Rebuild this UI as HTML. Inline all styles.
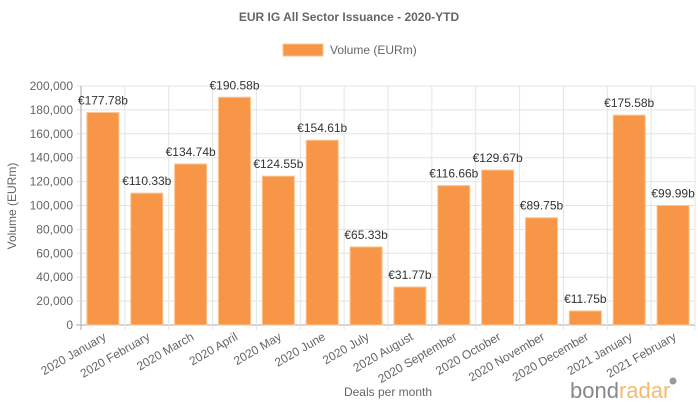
<!DOCTYPE html>
<html><head><meta charset="utf-8"><style>
body{margin:0;background:#fff;font-family:"Liberation Sans",sans-serif}
</style></head><body>
<svg width="698" height="404" xmlns="http://www.w3.org/2000/svg" font-family="Liberation Sans, sans-serif">
<text x="349" y="21" text-anchor="middle" font-size="12" font-weight="bold" fill="#666">EUR IG All Sector Issuance - 2020-YTD</text>
<g>
<rect x="283" y="44" width="40" height="12" fill="#f79646" stroke="#fbc48f" stroke-width="1"/>
<text x="330" y="54" font-size="12" fill="#666">Volume (EURm)</text>
</g>
<text transform="translate(16,206) rotate(-90)" text-anchor="middle" font-size="12" fill="#666">Volume (EURm)</text>
<text x="388" y="396" text-anchor="middle" font-size="12" fill="#666">Deals per month</text>
<g id="grid"></g><g id="bars"></g><g id="labels"></g>
<g>
<text x="570" y="398" font-size="22" fill="#888">bond<tspan fill="#f5b971">radar</tspan></text>
<circle cx="673" cy="381" r="3.5" fill="#999"/>
</g>
</svg>
<script>
const categories=["2020 January","2020 February","2020 March","2020 April","2020 May","2020 June","2020 July","2020 August","2020 September","2020 October","2020 November","2020 December","2021 January","2021 February"];
const values=[177780,110330,134740,190580,124550,154610,65330,31770,116660,129670,89750,11750,175580,99990];
const valueLabels=["€177.78b","€110.33b","€134.74b","€190.58b","€124.55b","€154.61b","€65.33b","€31.77b","€116.66b","€129.67b","€89.75b","€11.75b","€175.58b","€99.99b"];
const yTicks=[0,20000,40000,60000,80000,100000,120000,140000,160000,180000,200000];
const NS="http://www.w3.org/2000/svg";
const x0=81,x1=695,y0=325,yTop=86,yMax=200000;
const cw=(x1-x0)/categories.length;
const ys=v=>y0-(v/yMax)*(y0-yTop);
const xs=i=>x0+i*cw;
function mk(t,a,p){const e=document.createElementNS(NS,t);for(const k in a)e.setAttribute(k,a[k]);p.appendChild(e);return e;}
const g=document.getElementById('grid'),b=document.getElementById('bars'),l=document.getElementById('labels');
yTicks.forEach(t=>{const y=ys(t);
const ln=mk('line',{x1:x0-5,x2:x1,y1:y,y2:y,stroke:t===0?'#aaa':'#e4e4e4'},g);


const tx=mk('text',{x:x0-8,y:y+4,'text-anchor':'end','font-size':12,fill:'#666'},g);
tx.textContent=t.toLocaleString('en-US');

});
for(let i=0;i<=categories.length;i++){const x=xs(i);
const ln=mk('line',{x1:x,x2:x,y1:yTop,y2:y0+5,stroke:i===0?'#aaa':'#e4e4e4'},g);

}
categories.forEach((c,i)=>{const bw=cw*0.73,x=xs(i)+(cw-bw)/2,y=ys(values[i]);
const r=mk('rect',{x:x,y:y,width:bw,height:y0-y,fill:'#f79646',stroke:'#fbc48f','stroke-width':1},b);


const vt=mk('text',{x:xs(i)+cw/2,y:y-8,'text-anchor':'middle','font-size':12,fill:'#333'},l);
vt.textContent=valueLabels[i];


const tx=xs(i)+cw/2;
const ct=mk('text',{transform:`translate(${tx+4},${y0+14}) rotate(-30)`,'text-anchor':'end','font-size':12,fill:'#666'},l);
ct.textContent=c;

});
</script>
</body></html>
